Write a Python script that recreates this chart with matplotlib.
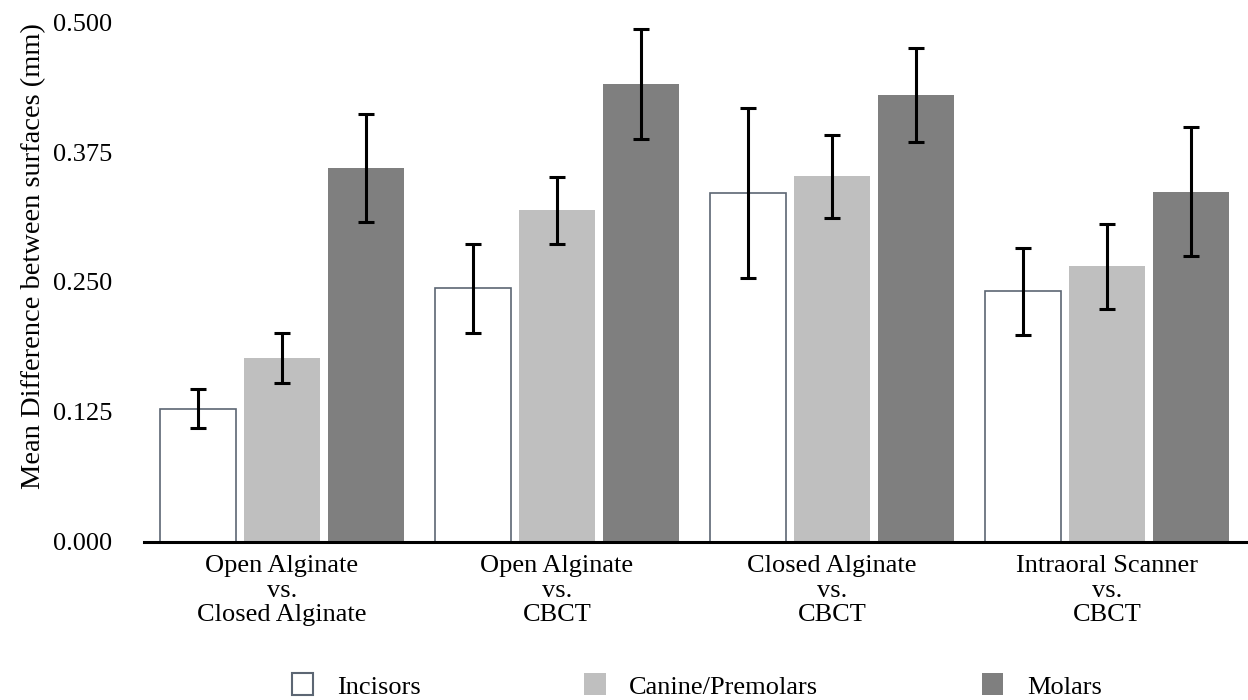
import numpy as np
import matplotlib
matplotlib.use('Agg')
import matplotlib.pyplot as plt
from matplotlib.patches import Patch

plt.rcParams['font.family'] = ['Liberation Serif', 'DejaVu Serif']

categories = ['Open Alginate\nvs.\nClosed Alginate', 'Open Alginate\nvs.\nCBCT',
              'Closed Alginate\nvs.\nCBCT', 'Intraoral Scanner\nvs.\nCBCT']
series = ['Incisors', 'Canine/Premolars', 'Molars']

incisors = [0.128, 0.244, 0.336, 0.241]
canine = [0.177, 0.319, 0.352, 0.265]
molars = [0.360, 0.441, 0.430, 0.337]

incisors_err = [0.019, 0.043, 0.082, 0.042]
canine_err = [0.024, 0.032, 0.040, 0.041]
molars_err = [0.052, 0.053, 0.045, 0.062]

yticks = [0.0, 0.125, 0.25, 0.375, 0.5]


def main():
    W, H = 1248, 700
    fig = plt.figure(figsize=(W / 100, H / 100), dpi=100)
    ax = fig.add_axes([144 / W, 158.5 / H, (1247 - 144) / W, 519 / H])

    x = np.arange(len(categories))
    width = 0.275
    off = 0.305
    err_kw = dict(ecolor='black', elinewidth=2.2, capsize=5.5, capthick=2.2)

    ax.bar(x - off, incisors, width, color='white', edgecolor='#5c6673',
           linewidth=1.2, yerr=incisors_err, error_kw=err_kw, zorder=2)
    ax.bar(x, canine, width, color='#bfbfbf', yerr=canine_err,
           error_kw=err_kw, zorder=2)
    ax.bar(x + off, molars, width, color='#7f7f7f', yerr=molars_err,
           error_kw=err_kw, zorder=2)

    ax.set_xlim(-0.502, 3.509)
    ax.set_ylim(0, 0.5)
    ax.set_yticks(yticks)
    ax.set_yticklabels(['{:.3f}'.format(v) for v in yticks], fontsize=19)
    ax.set_xticks(x)
    ax.set_xticklabels(categories, fontsize=19, linespacing=1.15)
    ax.tick_params(axis='y', length=0, pad=23)
    ax.tick_params(axis='x', length=0, pad=10)

    for side in ['left', 'right', 'top']:
        ax.spines[side].set_visible(False)
    ax.spines['bottom'].set_linewidth(2.2)
    ax.spines['bottom'].set_zorder(3)

    ax.set_ylabel('Mean Difference between surfaces (mm)', fontsize=20.5)
    ax.yaxis.set_label_coords(-98 / 1103, 0.55)

    handles = [Patch(facecolor='white', edgecolor='#5c6673', linewidth=1.5),
               Patch(facecolor='#bfbfbf'), Patch(facecolor='#7f7f7f')]
    fig.legend(handles, series, loc='center', ncol=3, frameon=False,
               fontsize=19, bbox_to_anchor=(697 / W, 1 - 686 / H),
               handlelength=0.8, handleheight=0.9, handletextpad=0.9,
               columnspacing=6.2)

    fig.savefig('out.png', dpi=100)


if __name__ == '__main__':
    main()
